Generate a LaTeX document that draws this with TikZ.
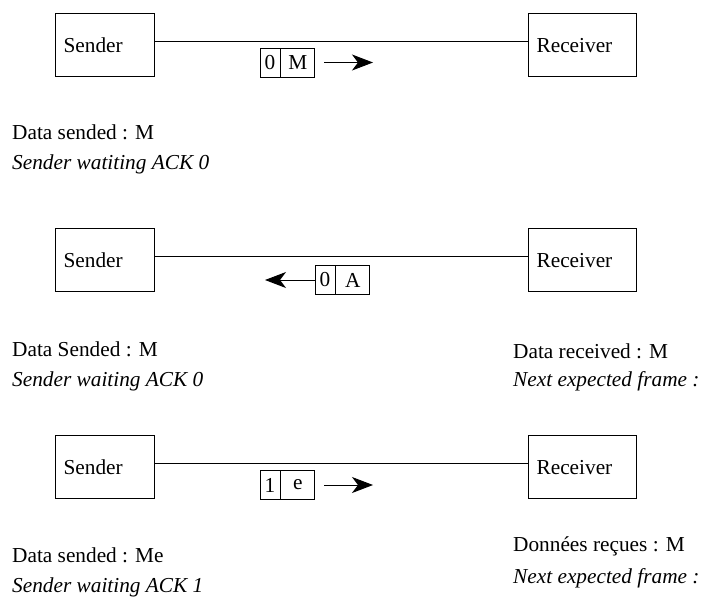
\documentclass[tikz,border=0pt]{standalone}
\usepackage{fontspec}
\setmainfont{Liberation Serif}
\usetikzlibrary{calc,positioning,arrows.meta}

\tikzset{
  station/.style={draw, line width=1.2pt, minimum height=63pt, inner xsep=8pt, text width=83pt, align=left, anchor=north west},
  cell/.style={draw, line width=0.9pt, minimum height=29pt, inner sep=0pt},
  pktarrow/.style={-{Stealth[length=21pt,width=16pt,inset=6pt]}, line width=1pt},
  info/.style={anchor=west, inner sep=0pt}
}

\begin{document}
\begin{tikzpicture}[x=1pt,y=-1pt,font=\fontsize{21.3}{25}\selectfont]
    \useasboundingbox (0,0) rectangle (703,598);

    % first exchange : frame 0
    \node[station] (s1) at (55,13) {Sender};
    \node[station, text width=92pt] (r1) at (528,13) {Receiver};
    \draw (s1.east) ++(0,-4) coordinate (l1) -- (l1 -| r1.west);
    \node[cell, minimum width=20pt] (p1a) at (270,62.5) {0};
    \node[cell, minimum width=34pt, right=0pt of p1a] (p1b) {M};
    \coordinate (t1) at (373,62.5);
    \draw[pktarrow] ($(p1b.east)+(9,0)$) -- (t1);
    \node[info] (d1) at (12,132) {Data sended : M};
    \node[info] (w1) at (12,164) {\itshape Sender watiting ACK 0};

    % second exchange : ack 0
    \node[station] (s2) at (55,228) {Sender};
    \node[station, text width=92pt] (r2) at (528,228) {Receiver};
    \draw (s2.east) ++(0,-4) coordinate (l2) -- (l2 -| r2.west);
    \node[cell, minimum width=20pt] (p2a) at (325,280) {0};
    \node[cell, minimum width=34pt, right=0pt of p2a] (p2b) {A};
    \coordinate (t2) at (265,280);
    \draw[pktarrow] (p2a.west) -- (t2);
    \node[info] (d2) at (12,349) {Data Sended : M};
    \node[info] (w2) at (12,381) {\itshape Sender waiting ACK 0};
    \node[info] (g2) at (513,351) {Data received : M};
    \node[info] (n2) at (513,381) {\itshape Next expected frame :};

    % third exchange : frame 1
    \node[station] (s3) at (55,435) {Sender};
    \node[station, text width=92pt] (r3) at (528,435) {Receiver};
    \draw (s3.east) ++(0,-4) coordinate (l3) -- (l3 -| r3.west);
    \node[cell, minimum width=20pt] (p3a) at (270,485) {1};
    \node[cell, minimum width=34pt, right=0pt of p3a] (p3b) {e};
    \coordinate (t3) at (373,485);
    \draw[pktarrow] ($(p3b.east)+(9,0)$) -- (t3);
    \node[info] (d3) at (12,555) {Data sended : Me};
    \node[info] (w3) at (12,587) {\itshape Sender waiting ACK 1};
    \node[info] (g3) at (513,546) {Données reçues : M};
    \node[info] (n3) at (513,578) {\itshape Next expected frame :};
\end{tikzpicture}
\end{document}
